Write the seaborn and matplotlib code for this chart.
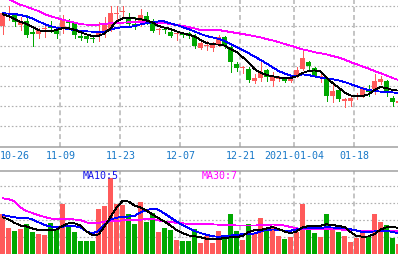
import numpy as np
import pandas as pd
import matplotlib
matplotlib.use("Agg")
import matplotlib.pyplot as plt
import matplotlib.transforms as mtransforms
import seaborn as sns

# ---------------- data ----------------
date_labels = ["10-26", "11-09", "11-23", "12-07", "12-21", "2021-01-04", "01-18"]
date_index = [0, 10, 20, 30, 40, 49, 59]

open_ = [15.00, 15.60, 15.60, 15.05, 15.25, 14.70, 14.60, 14.85, 15.00, 14.85,
         14.85, 15.25, 15.15, 14.50, 14.50, 14.38, 14.50, 14.70, 14.80, 15.60,
         15.68, 15.45, 15.10, 15.15, 15.50, 15.20, 14.78, 14.83, 14.70, 14.58,
         14.65, 14.65, 14.50, 13.90, 14.00, 13.90, 14.10, 14.45, 13.95, 13.10,
         12.90, 12.85, 12.25, 12.40, 12.80, 12.25, 12.33, 12.40, 12.25, 12.50,
         12.85, 13.20, 12.90, 12.45, 12.35, 11.50, 11.80, 11.25, 11.25, 11.45,
         11.50, 11.80, 11.85, 12.20, 12.25, 11.40, 11.15]
close = [15.65, 15.65, 15.20, 15.20, 14.55, 14.60, 14.80, 14.90, 14.90, 14.60,
         15.30, 15.15, 14.55, 14.40, 14.35, 14.33, 14.70, 15.10, 15.65, 15.65,
         15.73, 15.10, 15.00, 15.55, 15.25, 14.75, 14.83, 14.78, 14.50, 14.60,
         14.55, 14.50, 14.00, 14.15, 14.05, 14.05, 14.45, 14.00, 13.20, 12.90,
         12.95, 12.30, 12.40, 12.70, 12.45, 12.50, 12.38, 12.25, 12.40, 12.80,
         13.40, 13.00, 12.50, 12.50, 11.50, 11.75, 11.35, 11.35, 11.40, 11.55,
         11.85, 11.70, 12.25, 12.35, 11.65, 11.20, 11.25]
high = [15.70, 16.00, 15.65, 15.45, 15.55, 14.95, 14.90, 15.00, 15.25, 14.95,
        15.55, 15.35, 15.20, 14.70, 14.60, 14.50, 15.20, 15.45, 16.00, 16.00,
        16.00, 15.65, 15.45, 15.85, 15.70, 15.35, 14.90, 14.95, 14.80, 14.70,
        14.70, 14.70, 14.60, 14.25, 14.25, 14.20, 14.55, 14.50, 14.00, 13.20,
        13.00, 12.95, 12.60, 13.25, 12.85, 12.70, 12.50, 12.45, 12.50, 12.95,
        13.75, 13.25, 12.95, 12.75, 12.35, 12.10, 11.85, 11.40, 11.50, 11.65,
        11.95, 12.05, 12.60, 12.50, 12.30, 11.50, 11.30]
low = [14.60, 15.30, 15.00, 14.80, 14.45, 14.00, 14.40, 14.45, 14.70, 14.40,
       14.65, 15.00, 14.40, 14.30, 14.20, 14.20, 14.25, 14.45, 14.75, 15.15,
       15.45, 15.00, 14.85, 15.00, 15.10, 14.70, 14.60, 14.65, 14.45, 14.30,
       14.45, 14.40, 13.90, 13.85, 13.80, 13.75, 14.00, 13.90, 12.70, 12.75,
       12.65, 12.20, 12.15, 12.25, 12.25, 12.00, 12.25, 12.20, 12.20, 12.45,
       12.80, 12.85, 12.45, 12.20, 11.25, 11.20, 11.25, 10.95, 11.00, 11.35,
       11.45, 11.50, 11.60, 12.10, 11.50, 11.00, 11.10]

ma5 = [15.59, 15.49, 15.35, 15.21, 15.10, 14.94, 14.79, 14.74, 14.74, 14.80,
       14.89, 14.89, 14.81, 14.69, 14.58, 14.50, 14.50, 14.63, 14.88, 15.23,
       15.38, 15.40, 15.38, 15.34, 15.28, 15.17, 15.00, 14.92, 14.85, 14.73,
       14.64, 14.57, 14.48, 14.31, 14.15, 14.09, 14.07, 14.02, 13.85, 13.70,
       13.45, 13.17, 12.85, 12.66, 12.55, 12.49, 12.43, 12.39, 12.39, 12.48,
       12.65, 12.75, 12.78, 12.73, 12.43, 12.15, 11.93, 11.68, 11.53, 11.49,
       11.50, 11.58, 11.80, 11.94, 11.90, 11.80, 11.77]
ma10 = [15.64, 15.62, 15.60, 15.55, 15.48, 15.37, 15.23, 15.10, 14.99, 14.92,
        14.89, 14.85, 14.80, 14.75, 14.73, 14.72, 14.70, 14.71, 14.83, 14.90,
        14.94, 14.94, 15.00, 15.08, 15.14, 15.19, 15.23, 15.23, 15.13, 15.05,
        14.95, 14.84, 14.73, 14.60, 14.50, 14.43, 14.36, 14.25, 14.10, 13.94,
        13.80, 13.64, 13.48, 13.30, 13.13, 12.94, 12.75, 12.63, 12.52, 12.50,
        12.58, 12.55, 12.48, 12.42, 12.38, 12.34, 12.28, 12.20, 12.10, 11.99,
        11.88, 11.80, 11.75, 11.72, 11.70, 11.68, 11.65]
ma30 = [16.45, 16.34, 16.20, 16.06, 15.97, 15.85, 15.75, 15.59, 15.49, 15.40,
        15.32, 15.24, 15.17, 15.09, 15.07, 15.07, 15.07, 15.10, 15.14, 15.15,
        15.17, 15.18, 15.18, 15.18, 15.18, 15.18, 15.15, 15.14, 15.10, 15.05,
        15.00, 14.95, 14.88, 14.80, 14.80, 14.80, 14.80, 14.75, 14.70, 14.65,
        14.60, 14.55, 14.49, 14.43, 14.35, 14.28, 14.20, 14.10, 14.02, 13.92,
        13.83, 13.77, 13.69, 13.64, 13.58, 13.50, 13.43, 13.32, 13.20, 13.09,
        12.98, 12.87, 12.75, 12.64, 12.53, 12.40, 12.30]

volume = [40, 26, 23, 25, 30, 22, 20, 19, 31, 25,
          50, 28, 22, 13, 13, 13, 45, 48, 76, 50,
          49, 40, 30, 52, 32, 41, 22, 26, 24, 14,
          13, 13, 25, 11, 18, 11, 23, 16, 40, 23,
          14, 30, 20, 36, 23, 28, 18, 15, 17, 22,
          50, 29, 21, 17, 40, 25, 22, 18, 12, 16,
          21, 17, 40, 32, 29, 16, 10]
vol_ma5 = [36.7, 34.7, 31.2, 28.5, 27.5, 25.5, 24.0, 24.0, 24.0, 24.5,
           28.0, 30.7, 30.7, 28.5, 22.5, 18.7, 19.5, 27.5, 37.0, 46.5,
           53.0, 52.5, 48.5, 46.4, 43.5, 39.5, 35.8, 32.5, 28.5, 24.0,
           21.0, 18.5, 17.8, 16.7, 15.2, 15.0, 15.0, 16.0, 16.7, 17.0,
           18.0, 22.0, 23.7, 24.0, 25.5, 27.0, 25.0, 22.5, 20.7, 22.5,
           26.7, 27.7, 28.0, 28.3, 29.7, 29.0, 28.0, 27.0, 22.0, 18.0,
           17.3, 17.5, 20.0, 24.5, 26.7, 27.3, 26.0]
vol_ma10 = [39.0, 37.7, 36.8, 35.8, 36.2, 34.5, 31.7, 29.0, 27.5, 26.8,
            27.2, 28.2, 27.7, 26.7, 22.5, 20.5, 23.0, 29.0, 34.5, 36.3,
            37.0, 37.5, 38.0, 41.8, 43.7, 45.5, 44.3, 40.5, 36.5, 32.5,
            29.0, 26.0, 23.0, 21.0, 19.2, 17.7, 17.3, 17.8, 18.5, 19.2,
            19.8, 20.0, 20.5, 22.5, 24.2, 24.5, 24.3, 23.3, 23.3, 24.5,
            25.7, 25.7, 25.8, 26.2, 26.7, 26.5, 26.2, 25.8, 24.7, 23.5,
            22.0, 22.0, 22.6, 23.0, 23.2, 22.0, 20.7]
vol_ma30 = [55.7, 55.0, 52.5, 46.5, 43.0, 41.0, 38.8, 37.0, 35.5, 35.0,
            35.0, 34.8, 34.5, 34.0, 31.5, 30.7, 30.7, 32.5, 33.0, 33.3,
            33.5, 34.0, 34.2, 34.4, 34.7, 35.0, 33.7, 32.5, 32.0, 31.2,
            30.6, 30.3, 30.2, 30.0, 29.8, 29.6, 29.4, 29.2, 28.8, 28.5,
            28.5, 28.5, 28.5, 28.7, 29.0, 29.5, 29.3, 28.5, 27.0, 25.7,
            25.0, 25.0, 25.0, 25.0, 25.0, 25.0, 24.7, 24.2, 23.8, 23.5,
            23.3, 23.3, 23.3, 23.3, 23.3, 23.3, 23.3]

ma_labels = ["MA10:5", "MA30:7"]

# ---------------- style ----------------
RED = "#FF5A5A"
GREEN = "#00A800"
GRID = "#B0B0B0"
SPINE = "#A0A0A0"
DATE_C = "#1878C8"
MONO = "DejaVu Sans Mono"
FS = 7.2

sns.set_style("white")
plt.rcParams["font.family"] = [MONO, "DejaVu Sans"]

W, H = 398, 255
fig = plt.figure(figsize=(W / 100, H / 100), dpi=100)
fig.patch.set_facecolor("white")

price_bottom_px = 147.5
vol_top_px = 171.5
ax_p = fig.add_axes([0, 1 - price_bottom_px / H, 1, price_bottom_px / H])
ax_v = fig.add_axes([0, 0, 1, (H - vol_top_px) / H])

n = len(close)
idx = np.arange(n)
o = np.array(open_); c = np.array(close); hi = np.array(high); lo = np.array(low)
up = c > o
colors = np.where(up, RED, GREEN)

px_per_bar = 6.0
xmin = -2.5 / px_per_bar
xmax = xmin + W / px_per_bar

p_top = 16.35
p_bottom = p_top - price_bottom_px / 20.0

LW = 0.62  # thin, single pixel aliased lines

# ---------- price panel ----------
unit = (p_top - p_bottom) / price_bottom_px
body_low = np.minimum(o, c)
body_h = np.maximum(np.abs(c - o), 1.3 * unit)
ax_p.vlines(idx, lo, hi, colors=colors, linewidth=0.72, zorder=2, antialiased=False)
ax_p.bar(idx, body_h, bottom=body_low, width=5 / 6, color=colors, linewidth=0,
         zorder=2.1, antialiased=False)

df_p = pd.DataFrame({"i": idx, "MA5": ma5, "MA10": ma10, "MA30": ma30})
for col, colr in [("MA30", "#FF00FF"), ("MA10", "#0000FF"), ("MA5", "#000000")]:
    sns.lineplot(data=df_p, x="i", y=col, color=colr, linewidth=LW, ax=ax_p,
                 zorder=3, legend=False)

ax_p.set_xlim(xmin, xmax)
ax_p.set_ylim(p_bottom, p_top)
ax_p.set_yticks(np.arange(10, 17, 1.0))
grid_x = [i - 0.35 for i in date_index[1:]]
ax_p.set_xticks(grid_x)

# ---------- volume panel ----------
df_v = pd.DataFrame({"i": idx, "vol": volume, "up": up})
for flag, colr in [(True, RED), (False, GREEN)]:
    sub = df_v[df_v["up"] == flag]
    sns.barplot(data=sub, x="i", y="vol", color=colr, native_scale=True,
                width=5 / 6, saturation=1, linewidth=0, errorbar=None,
                ax=ax_v, zorder=2)
for p in ax_v.patches:
    p.set_antialiased(False)
df_vm = pd.DataFrame({"i": idx, "V5": vol_ma5, "V10": vol_ma10, "V30": vol_ma30})
for col, colr in [("V30", "#FF00FF"), ("V10", "#0000FF"), ("V5", "#000000")]:
    sns.lineplot(data=df_vm, x="i", y=col, color=colr, linewidth=LW, ax=ax_v,
                 zorder=3, legend=False)
ax_v.set_xlim(xmin, xmax)
ax_v.set_ylim(0, H - vol_top_px)
ax_v.set_yticks([17, 34, 51, 68])
ax_v.set_xticks(grid_x)

for ax in (ax_p, ax_v):
    for ln in ax.get_lines():
        ln.set_linewidth(LW)
        ln.set_antialiased(False)
        ln.set_solid_joinstyle("miter")
    ax.set_facecolor("white")
    ax.set_axisbelow(True)
    ax.grid(axis="y", color=GRID, linestyle=(0, (1.4, 1.8)), linewidth=0.85)
    ax.grid(axis="x", color="#B4B4B4", linestyle=(0, (3.2, 2.0)), linewidth=1.1)
    ax.tick_params(length=0, labelbottom=False, labelleft=False)
    ax.set_xlabel(""); ax.set_ylabel("")
    for s in ax.spines.values():
        s.set_visible(False)

ax_p.spines["bottom"].set_visible(True)
ax_p.spines["bottom"].set_color(SPINE)
ax_p.spines["bottom"].set_linewidth(1.1)
ax_v.spines["top"].set_visible(True)
ax_v.spines["top"].set_color(SPINE)
ax_v.spines["top"].set_linewidth(1.1)

# ---------- date labels ----------
trans = mtransforms.blended_transform_factory(ax_p.transData, fig.transFigure)
date_y = 1 - 155.7 / H
for k, (lab, i) in enumerate(zip(date_labels, date_index)):
    if k == 0:
        ax_p.text(xmin, date_y, lab, transform=trans, ha="left", va="center",
                  fontsize=FS, color=DATE_C, family=MONO, clip_on=False)
    else:
        ax_p.text(i - 0.35, date_y, lab, transform=trans, ha="center", va="center",
                  fontsize=FS, color=DATE_C, family=MONO, clip_on=False)

# ---------- MA labels ----------
fig.text(83 / W, 1 - 176 / H, ma_labels[0], ha="left", va="center",
         fontsize=FS, color="#1010E8", family=MONO)
fig.text(202 / W, 1 - 176 / H, ma_labels[1], ha="left", va="center",
         fontsize=FS, color="#FF00FF", family=MONO)

fig.savefig("out.png", dpi=100, facecolor="white")
